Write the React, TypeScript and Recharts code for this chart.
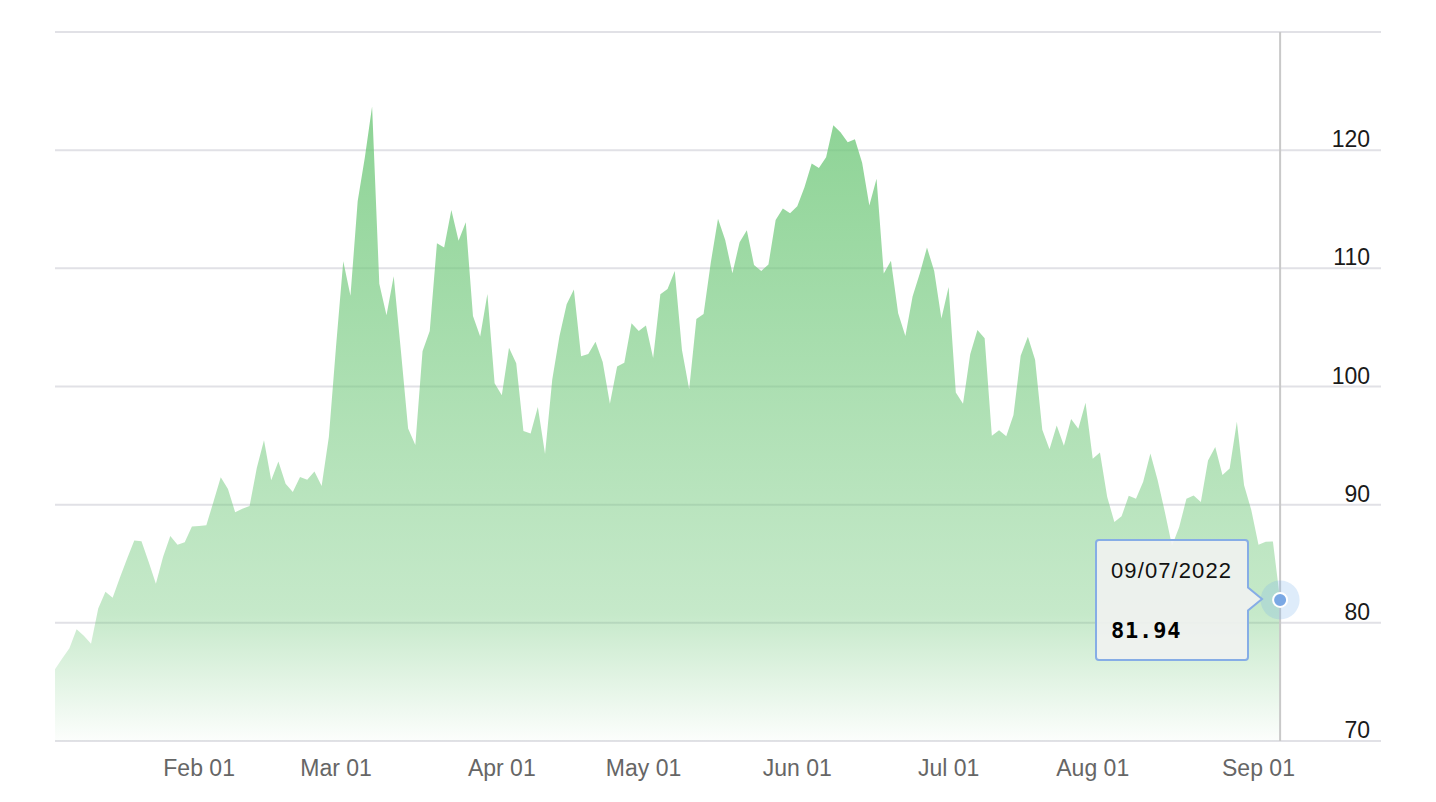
import { AreaChart, Area, XAxis, YAxis, CartesianGrid, Tooltip } from "recharts";

// trading sessions per month (2022) and closing prices
const janDays = [3, 4, 5, 6, 7, 10, 11, 12, 13, 14, 18, 19, 20, 21, 24, 25, 26, 27, 28, 31];
const febDays = [1, 2, 3, 4, 7, 8, 9, 10, 11, 14, 15, 16, 17, 18, 22, 23, 24, 25, 28];
const marDays = [1, 2, 3, 4, 7, 8, 9, 10, 11, 14, 15, 16, 17, 18, 21, 22, 23, 24, 25, 28, 29, 30, 31];
const aprDays = [1, 4, 5, 6, 7, 8, 11, 12, 13, 14, 18, 19, 20, 21, 22, 25, 26, 27, 28, 29];
const mayDays = [2, 3, 4, 5, 6, 9, 10, 11, 12, 13, 16, 17, 18, 19, 20, 23, 24, 25, 26, 27, 31];
const junDays = [1, 2, 3, 6, 7, 8, 9, 10, 13, 14, 15, 16, 17, 21, 22, 23, 24, 27, 28, 29, 30];
const julDays = [1, 5, 6, 7, 8, 11, 12, 13, 14, 15, 18, 19, 20, 21, 22, 25, 26, 27, 28, 29];
const augDays = [1, 2, 3, 4, 5, 8, 9, 10, 11, 12, 15, 16, 17, 18, 19, 22, 23, 24, 25, 26, 29, 30, 31];
const sepDays = [1, 2, 6, 7];

const janPrices = [76.08, 76.99, 77.85, 79.46, 78.9, 78.23, 81.22, 82.64, 82.12, 83.82, 85.43, 86.96, 86.9, 85.14, 83.31, 85.6, 87.35, 86.61, 86.82, 88.15];
const febPrices = [88.2, 88.26, 90.27, 92.31, 91.32, 89.36, 89.66, 89.88, 93.1, 95.46, 92.07, 93.66, 91.76, 91.07, 92.35, 92.1, 92.81, 91.59, 95.72];
const marPrices = [103.41, 110.6, 107.67, 115.68, 119.4, 123.7, 108.7, 106.02, 109.33, 103.01, 96.44, 95.04, 102.98, 104.7, 112.12, 111.76, 114.93, 112.34, 113.9, 105.96, 104.24, 107.82, 100.28];
const aprPrices = [99.27, 103.28, 101.96, 96.23, 96.03, 98.26, 94.29, 100.6, 104.25, 106.95, 108.21, 102.56, 102.75, 103.79, 102.07, 98.54, 101.7, 102.02, 105.36, 104.69];
const mayPrices = [105.17, 102.41, 107.81, 108.26, 109.77, 103.09, 99.76, 105.71, 106.13, 110.49, 114.2, 112.4, 109.59, 112.21, 113.23, 110.29, 109.77, 110.33, 114.09, 115.07, 114.67];
const junPrices = [115.26, 116.87, 118.87, 118.5, 119.41, 122.11, 121.51, 120.67, 120.93, 118.93, 115.31, 117.59, 109.56, 110.65, 106.19, 104.27, 107.62, 109.57, 111.76, 109.78, 105.76];
const julPrices = [108.43, 99.5, 98.53, 102.73, 104.79, 104.09, 95.84, 96.3, 95.78, 97.59, 102.6, 104.22, 102.26, 96.35, 94.7, 96.7, 94.98, 97.26, 96.42, 98.62];
const augPrices = [93.89, 94.42, 90.66, 88.54, 89.01, 90.76, 90.5, 91.93, 94.34, 92.09, 89.41, 86.53, 88.11, 90.5, 90.77, 90.23, 93.74, 94.89, 92.52, 93.06, 97.01, 91.64, 89.55];
const sepPrices = [86.61, 86.87, 86.88, 81.94];

const tickDates = ["2022-02-01", "2022-03-01", "2022-04-01", "2022-05-01", "2022-06-01", "2022-07-01", "2022-08-01", "2022-09-01"];
const tickLabels = ["Feb 01", "Mar 01", "Apr 01", "May 01", "Jun 01", "Jul 01", "Aug 01", "Sep 01"];
const yTicks = [70, 80, 90, 100, 110, 120, 130];

const months = [
  [janDays, janPrices], [febDays, febPrices], [marDays, marPrices],
  [aprDays, aprPrices], [mayDays, mayPrices], [junDays, junPrices],
  [julDays, julPrices], [augDays, augPrices], [sepDays, sepPrices],
] as const;

const pad = (n: number) => String(n).padStart(2, "0");

const data: { i: number; t: number; date: string; value: number }[] = [];
months.forEach(([days, prices], m) => {
  days.forEach((d, k) => {
    data.push({
      i: data.length,
      t: Date.UTC(2022, m, d),
      date: `${pad(m + 1)}/${pad(d)}/2022`,
      value: prices[k],
    });
  });
});

// ordinal axis: a calendar date falling between sessions sits proportionally between them
const tickIdx = tickDates.map((s) => {
  const t = Date.parse(s);
  let k = 0;
  while (k + 1 < data.length && data[k + 1].t <= t) k++;
  if (data[k].t === t || k + 1 >= data.length) return k;
  return k + (t - data[k].t) / (data[k + 1].t - data[k].t);
});

const FONT = '"Liberation Sans", Arial, sans-serif';

const XTick = (p: any) => {
  const n = tickIdx.indexOf(p.payload.value);
  return (
    <text x={p.x} y={p.y + 35} textAnchor="middle" fill="#666" fontSize={23} fontFamily={FONT}>
      {tickLabels[n]}
    </text>
  );
};

const YTick = (p: any) => {
  if (p.payload.value === 130) return <g />;
  return (
    <text x={p.x} y={p.y - 3} textAnchor="end" fill="#1a1a1a" fontSize={23} fontFamily={FONT}>
      {p.payload.value}
    </text>
  );
};

const ActiveDot = (p: any) => (
  <g>
    <circle cx={p.cx} cy={p.cy} r={19.5} fill="#7cb5ec" fillOpacity={0.25} />
    <circle cx={p.cx} cy={p.cy} r={7} fill="#7aa8e4" stroke="#fff" strokeWidth={2} />
  </g>
);

const TipBox = ({ active, payload }: any) => {
  if (!active || !payload || !payload.length) return null;
  const row = payload[0].payload;
  return (
    <svg width={170} height={124} style={{ display: "block", overflow: "visible" }}>
      <path
        d="M4,1 H150 Q153,1 153,4 V48.5 L167,60 L153,71.5 V118 Q153,121 150,121 H4 Q1,121 1,118 V4 Q1,1 4,1 Z"
        fill="rgba(241,242,241,0.9)"
        stroke="#86ade6"
        strokeWidth={2}
      />
      <text x={16} y={39} fontSize={22} fontFamily={FONT} fill="#111" letterSpacing={1.1}>
        {row.date}
      </text>
      <text x={16} y={99} fontSize={22} fontFamily='"DejaVu Sans Mono", monospace' fontWeight="bold" fill="#000" letterSpacing={0.8}>
        {row.value.toFixed(2)}
      </text>
    </svg>
  );
};

export default function App() {
  return (
    <div style={{ width: 1420, height: 786, fontFamily: FONT }}>
      <AreaChart width={1420} height={786} data={data} margin={{ top: 24, right: 47, bottom: 13, left: 47 }}>
        <defs>
          <linearGradient id="oilFill" x1="0" y1="0" x2="0" y2="1">
            <stop offset="0" stopColor="#70c87a" stopOpacity={0.8} />
            <stop offset="0.8" stopColor="#70c87a" stopOpacity={0.4} />
            <stop offset="1" stopColor="#70c87a" stopOpacity={0.02} />
          </linearGradient>
        </defs>
        <CartesianGrid vertical={false} stroke="#e1e1e6" strokeWidth={2} />
        <XAxis
          type="number"
          dataKey="i"
          domain={[0, 184]}
          ticks={tickIdx}
          interval={0}
          tick={XTick}
          axisLine={false}
          tickLine={false}
          tickSize={0}
          tickMargin={0}
          height={40}
        />
        <YAxis
          orientation="right"
          mirror
          domain={[70, 130]}
          ticks={yTicks}
          interval={0}
          tick={YTick}
          axisLine={false}
          tickLine={false}
          tickSize={0}
          tickMargin={11}
        />
        <Tooltip
          active
          defaultIndex={data.length - 1}
          cursor={{ stroke: "#c9c9c9", strokeWidth: 2 }}
          position={{ x: 1087, y: 531 }}
          content={TipBox}
          isAnimationActive={false}
          allowEscapeViewBox={{ x: true, y: true }}
          wrapperStyle={{ outline: "none" }}
        />
        <Area
          type="linear"
          dataKey="value"
          stroke="none"
          fill="url(#oilFill)"
          fillOpacity={1}
          isAnimationActive={false}
          activeDot={ActiveDot}
        />
      </AreaChart>
    </div>
  );
}
